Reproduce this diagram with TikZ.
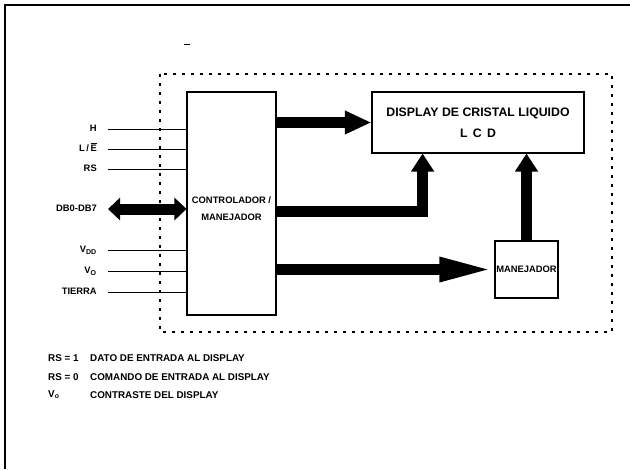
\documentclass[tikz,border=0pt]{standalone}
\usepackage{fontspec}
\setmainfont{Liberation Sans}
\usetikzlibrary{arrows.meta,positioning,calc}

\begin{document}
\begin{tikzpicture}[x=0.3mm, y=-0.3mm,
  every node/.style={font=\bfseries\fontsize{8}{9}\selectfont, inner sep=0pt},
  block/.style={draw, line width=0.9pt},
  pinlbl/.style={anchor=east, text height=6pt, text depth=1pt},
  sig/.style={line width=0.7pt},
  note/.style={anchor=west, font=\bfseries\fontsize{8.4}{9}\selectfont},
  dotbox/.style={line width=1.1pt, dash pattern=on 0.9mm off 1.8mm},
  bus/.style={line width=3.3mm, line join=miter},
  busdb/.style={bus, {Triangle[length=3.6mm, width=6.6mm]}-{Triangle[length=3.6mm, width=6.6mm]}},
  busr/.style={bus, -{Triangle[length=8mm, width=6.6mm]}},
  busup/.style={bus, -{Triangle[length=5.4mm, width=6.6mm]}},
  buslong/.style={bus, -{Triangle[length=16.5mm, width=6.6mm]}}
]
\useasboundingbox (0,0) rectangle (630,469);

% page edge
\draw[line width=0.6mm] (5,469) -- (5,5) -- (630,5);
\draw[line width=0.5pt] (184,44) -- (190,44);

% module outline
\draw[dotbox] (160,74) rectangle (612,332);

% blocks
\node[block, minimum width=26.7mm, minimum height=66.9mm] (ctrl) at (231.5,203.5) {};
\node[align=center, font=\bfseries\fontsize{8}{15}\selectfont] (ctrltxt) at ([yshift=-1.6mm]ctrl.center) {CONTROLADOR /\\MANEJADOR};
\node[block, minimum width=63.6mm, minimum height=18.3mm, align=center,
  font=\bfseries\fontsize{10.5}{18}\selectfont] (lcd) at (478,122.5) {DISPLAY DE CRISTAL LIQUIDO\\L\hspace{4.5pt}C\hspace{4.5pt}D};
\node[block, minimum width=18.9mm, minimum height=17.1mm] (drv) at (526.5,269.5) {MANEJADOR};

% inputs
\foreach \pin/\txt/\y in {h/H/129, le/{L\,/\,\rlap{\rule[6.9pt]{5.3pt}{0.7pt}}E}/149, rs/RS/169,
                          vdd/{V\textsubscript{DD}}/250, vo/{V\textsubscript{O}}/271, gnd/TIERRA/292} {
  \node[pinlbl] (\pin) at (97,\y) {\txt};
  \draw[sig] ([xshift=3.3mm]\pin.east) -- (\pin.east -| ctrl.west);
}
\node[pinlbl] (db) at (97,209) {DB0-DB7};
\draw[busdb] ([xshift=3.3mm]db.east) -- (db.east -| ctrl.west);

% data paths
\draw[busr] (ctrl.east |- lcd.west) -- (lcd.west);
\draw[busup] (ctrl.east |- 0,211) -| ($(lcd.south west)!0.24!(lcd.south east)$);
\draw[buslong] (ctrl.east |- drv.west) -- (drv.west);
\draw[busup] (drv.north) -- (drv.north |- lcd.south);

% legend
\node[note] (rs1) at (48,358) {RS = 1};
\node[note] (rs1t) at (90,358) {DATO DE ENTRADA AL DISPLAY};
\node[note] (rs0) at (48,377) {RS = 0};
\node[note] (rs0t) at (90,377) {COMANDO DE ENTRADA AL DISPLAY};
\node[note] (vo1) at (48,395) {V\textsubscript{o}};
\node[note] (vo1t) at (90,395) {CONTRASTE DEL DISPLAY};
\end{tikzpicture}
\end{document}
